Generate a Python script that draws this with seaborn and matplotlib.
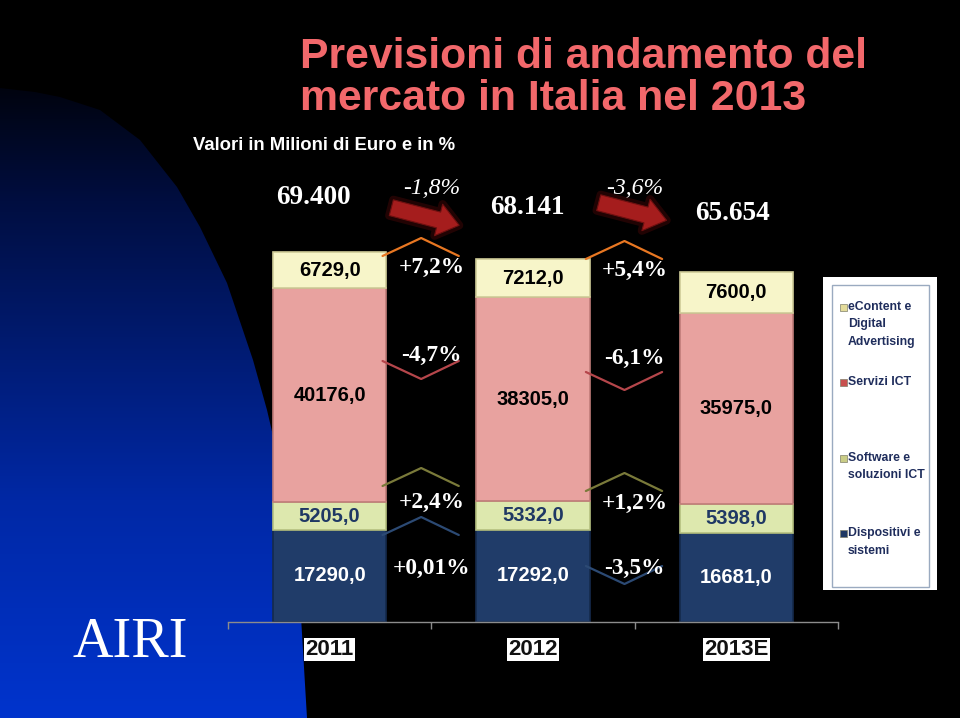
import numpy as np
import pandas as pd
import matplotlib
matplotlib.use("Agg")
import matplotlib.pyplot as plt
import seaborn as sns
from matplotlib import font_manager
from matplotlib.patches import Polygon, Rectangle
import matplotlib.patheffects as pe

# ---------------- data ----------------
years = ["2011", "2012", "2013E"]
dispositivi = [17290.0, 17292.0, 16681.0]
software = [5205.0, 5332.0, 5398.0]
servizi = [40176.0, 38305.0, 35975.0]
econtent = [6729.0, 7212.0, 7600.0]
changes_dispositivi = ["+0,01%", "-3,5%"]
changes_software = ["+2,4%", "+1,2%"]
changes_servizi = ["-4,7%", "-6,1%"]
changes_econtent = ["+7,2%", "+5,4%"]
total_changes = ["-1,8%", "-3,6%"]
legend_labels = [["eContent e", "Digital", "Advertising"], ["Servizi ICT"],
                 ["Software e", "soluzioni ICT"], ["Dispositivi e", "sistemi"]]

# ---------------- fonts ----------------
names = {f.name for f in font_manager.fontManager.ttflist}
NARROW = "Liberation Sans Narrow" if "Liberation Sans Narrow" in names else "Liberation Sans"
narrow_scale = 1.0 if NARROW == "Liberation Sans Narrow" else 0.82
SANS = "Liberation Sans"
SERIF = "Liberation Serif"

sns.set_style("white")
plt.rcParams["font.family"] = [SANS, "DejaVu Sans"]

W, H = 960, 718
fig = plt.figure(figsize=(W / 100, H / 100), dpi=100, facecolor="black")

# ---------------- background ----------------
bg = fig.add_axes([0, 0, 1, 1], zorder=0)
bg.set_xlim(0, W)
bg.set_ylim(H, 0)
bg.axis("off")
bg.set_facecolor("black")
bg.add_patch(Rectangle((0, 0), W, H, color="black", zorder=0))

edge_y = [88, 92, 97, 110, 140, 187, 227, 283, 360, 410, 500, 600, 718]
edge_x = [0, 35, 60, 100, 140, 177, 200, 227, 253, 267, 288, 300, 307]
poly_pts = list(zip(edge_x, edge_y)) + [(0, H)]
shape = Polygon(poly_pts, closed=True, facecolor="none", edgecolor="none")
bg.add_patch(shape)
stops_y = np.array([88, 200, 360, 500, 718])
stops_c = np.array([[0, 3, 15], [0, 14, 64], [0, 28, 118], [0, 40, 165], [0, 52, 205]]) / 255
yy = np.linspace(88, 718, 300)
grad = np.stack([np.interp(yy, stops_y, stops_c[:, k]) for k in range(3)], axis=-1)[:, None, :]
im = bg.imshow(grad, extent=[0, 320, 718, 88], aspect="auto", zorder=1, interpolation="bilinear")
im.set_clip_path(shape)
bg.set_xlim(0, W)
bg.set_ylim(H, 0)

# title & subtitle
title_col = "#F2686B"
bg.text(300, 68, "Previsioni di andamento del", fontfamily=NARROW, fontweight="bold",
        fontsize=37.5 * narrow_scale, color=title_col, va="baseline", ha="left", zorder=3)
bg.text(300, 110, "mercato in Italia nel 2013", fontfamily=NARROW, fontweight="bold",
        fontsize=37.5 * narrow_scale, color=title_col, va="baseline", ha="left", zorder=3)
bg.text(193, 150, "Valori in Milioni di Euro e in %", fontfamily=SANS, fontweight="bold",
        fontsize=13.3, color="white", va="baseline", ha="left", zorder=3)
bg.text(130, 643, "AIRI", fontfamily=SERIF, fontsize=40.5, color="white",
        ha="center", va="center", zorder=3)

# legend box (drawn)
bg.add_patch(Rectangle((823, 277), 114, 313, facecolor="white", edgecolor="none", zorder=2))
bg.add_patch(Rectangle((832, 285), 97, 302, facecolor="none", edgecolor="#9AAAC0", lw=1, zorder=3))
leg_cols = ["#E3DB9A", "#C8504F", "#C9CC86", "#1F3864"]
leg_y = [307, 382, 458, 533]
for lab, c, y0 in zip(legend_labels, leg_cols, leg_y):
    bg.add_patch(Rectangle((839.5, y0 - 3.5), 7, 7, facecolor=c, edgecolor="#7f7f6a", lw=0.5, zorder=4))
    for j, line in enumerate(lab):
        bg.text(848, y0 + 17.5 * j, line, fontfamily=NARROW, fontweight="bold",
                fontsize=10.8 * narrow_scale, color="#1F2D5C", va="center", ha="left", zorder=4)

# ---------------- main chart ----------------
AX_L, AX_R, AX_B, AX_T = 228, 838, 622, 249
YMAX = 70000
ax = fig.add_axes([AX_L / W, 1 - AX_B / H, (AX_R - AX_L) / W, (AX_B - AX_T) / H], zorder=2)
ax.set_facecolor("none")


def py(px):
    return (AX_B - px) / (AX_B - AX_T) * YMAX


stack = [
    ("Dispositivi e sistemi", dispositivi, "#203C69", "#152a4c", "white"),
    ("Software e soluzioni ICT", software, "#DDE8AE", "#b5c080", "#1F3864"),
    ("Servizi ICT", servizi, "#E8A29F", "#c07c79", "black"),
    ("eContent e Digital Advertising", econtent, "#F7F5C9", "#cfcb98", "black"),
]
bottom = np.zeros(len(years))
for name, vals, col, ecol, tcol in stack:
    df = pd.DataFrame({"year": years, "value": vals})
    sns.barplot(data=df, x="year", y="value", order=years, color=col, width=0.556,
                bottom=bottom.copy(), edgecolor=ecol, linewidth=1.2, errorbar=None,
                saturation=1, ax=ax)
    for i, v in enumerate(vals):
        ax.text(i, bottom[i] + v / 2, f"{v:.1f}".replace(".", ","), ha="center", va="center",
                fontsize=14.5, fontweight="bold", color=tcol, fontfamily=SANS, zorder=5)
    bottom = bottom + np.array(vals)

totals = bottom
ax.set_xlim(-0.5, 2.5)
ax.set_ylim(0, YMAX)

# totals on top
tot_y = [198, 207, 214]
tot_dx = [-0.08, -0.03, -0.02]
for i, t in enumerate(totals):
    ax.text(i + tot_dx[i], py(tot_y[i]), f"{int(round(t)):,}".replace(",", "."), ha="center",
            va="center", fontfamily=SERIF, fontweight="bold", fontsize=19.5, color="white",
            clip_on=False)

# total change arrows
arrow_tail = [(0.29, 207), (0.31, 202)]
arrow_head = [(0.65, 226), (0.67, 221)]
for g in range(2):
    ax.text(g + 0.5, py(188), total_changes[g], ha="center", va="center", fontfamily=SERIF,
            fontstyle="italic", fontsize=17, color="white", clip_on=False)
    ax.annotate("", xy=(g + arrow_head[g][0], py(arrow_head[g][1])),
                xytext=(g + arrow_tail[g][0], py(arrow_tail[g][1])),
                arrowprops=dict(arrowstyle="simple,head_length=0.85,head_width=1.3,tail_width=0.65",
                                mutation_scale=18, facecolor="#A51D1D", edgecolor="#6e1010", lw=0.8,
                                path_effects=[pe.withStroke(linewidth=6, foreground="#4a0808", alpha=0.45)]),
                annotation_clip=False)

# segment changes with chevrons
change_rows = [
    (changes_econtent, [267, 270], [256, 259], "#E87722"),
    (changes_servizi, [355, 358], [361, 372], "#B5464B"),
    (changes_software, [502, 503], [486, 491], "#7A7A3A"),
    (changes_dispositivi, [568, 568], [535, 566], "#2C4A74"),
]
for labels, ty, cy, ccol in change_rows:
    for g in range(2):
        up = labels[g].startswith("+")
        x0, xm, x1 = g + 0.26, g + 0.45, g + 0.635
        yb = py(cy[g])
        yt = py(cy[g] - 18 if up else cy[g] + 18)
        ax.plot([x0, xm, x1], [yb, yt, yb], color=ccol, lw=1.6, clip_on=False, zorder=4)
        ax.text(g + 0.5, py(ty[g]), labels[g], ha="center", va="center", fontfamily=SERIF,
                fontweight="bold", fontsize=16.8, color="white", zorder=6, clip_on=False)

# axes styling
for s in ["top", "left", "right"]:
    ax.spines[s].set_visible(False)
ax.spines["bottom"].set_color("#8c8c8c")
ax.spines["bottom"].set_linewidth(1)
ax.set_yticks([])
ax.set_ylabel("")
ax.set_xlabel("")
ax.set_xticks(range(len(years)))
ax.set_xticklabels(years)
ax.set_xticks([-0.5, 0.5, 1.5, 2.5], minor=True)
ax.tick_params(axis="x", which="major", bottom=True, length=0, pad=12)
ax.tick_params(axis="x", which="minor", bottom=True, length=5, width=1, color="#8c8c8c",
               direction="out")
for lab in ax.get_xticklabels():
    lab.set_fontsize(16)
    lab.set_fontweight("bold")
    lab.set_fontfamily(SANS)
    lab.set_color("#111111")
    lab.set_bbox(dict(boxstyle="square,pad=0.05", facecolor="white", edgecolor="none"))

fig.savefig("out.png", dpi=100, facecolor="black")
